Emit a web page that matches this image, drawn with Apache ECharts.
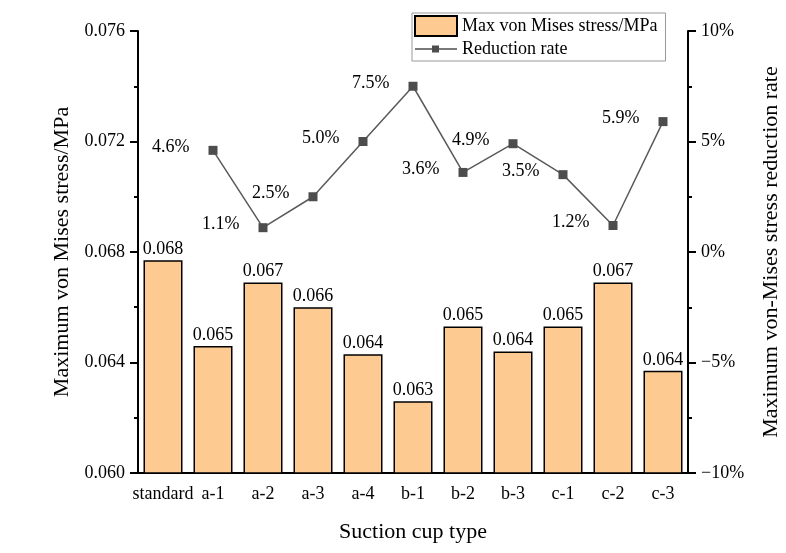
<!DOCTYPE html>
<html>
<head>
<meta charset="utf-8">
<script src="https://cdn.jsdelivr.net/npm/echarts@6/dist/echarts.min.js"></script>
<style>
    html, body { margin: 0; padding: 0; background: #fff; }
    #main { width: 786px; height: 553px; }
</style>
</head>
<body>
<div id="main"></div>
<script>
// data
var categories = ['standard', 'a-1', 'a-2', 'a-3', 'a-4', 'b-1', 'b-2', 'b-3', 'c-1', 'c-2', 'c-3'];
var stress = [0.0677, 0.0646, 0.0669, 0.0660, 0.0643, 0.0626, 0.0653, 0.0644, 0.0653, 0.0669, 0.0637];
var reduction = [null, 4.6, 1.1, 2.5, 5.0, 7.5, 3.6, 4.9, 3.5, 1.2, 5.9];
var stressTicks = [0.060, 0.064, 0.068, 0.072, 0.076];
var rateTicks = [-10, -5, 0, 5, 10];

var font = "'Liberation Serif', 'Times New Roman', serif";

var myChart = echarts.init(document.getElementById('main'));
var option = {
    animation: false,
    textStyle: { fontFamily: font, color: '#000' },
    legend: {
        orient: 'vertical',
        left: 412,
        top: 13,
        padding: [2, 8, 3, 2],
        itemGap: 3,
        itemWidth: 42,
        itemHeight: 20,
        borderColor: '#999',
        borderWidth: 1,
        textStyle: { fontFamily: font, fontSize: 18, color: '#000' },
        data: [
            { name: 'Max von Mises stress/MPa', icon: 'rect' },
            { name: 'Reduction rate', icon: 'path://M0,9.3L42,9.3L42,10.7L0,10.7Z M17,6.5L24,6.5L24,13.5L17,13.5Z' }
        ]
    },
    grid: { left: 138, right: 98, top: 31, bottom: 80, outerBoundsMode: 'none' },
    xAxis: [
        {
            type: 'category',
            data: categories,
            name: 'Suction cup type',
            nameLocation: 'middle',
            nameGap: 48,
            nameTextStyle: { fontFamily: font, fontSize: 22, color: '#000' },
            axisLine: { onZero: false, lineStyle: { color: '#000', width: 2 } },
            axisTick: { alignWithLabel: true, interval: 0, length: 7, lineStyle: { color: '#000', width: 2 } },
            axisLabel: { interval: 0, fontFamily: font, fontSize: 18, color: '#000', margin: 12 }
        },
        {
            // boundary ticks only
            type: 'category',
            data: categories,
            position: 'bottom',
            axisLine: { show: false, onZero: false },
            axisTick: { interval: 0, length: 3, lineStyle: { color: '#000', width: 2 } },
            axisLabel: { show: false }
        }
    ],
    yAxis: [
        {
            type: 'value',
            min: stressTicks[0],
            max: stressTicks[stressTicks.length - 1],
            interval: 0.004,
            name: 'Maximum von Mises stress/MPa',
            nameLocation: 'middle',
            nameGap: 65,
            nameTextStyle: { fontFamily: font, fontSize: 22, color: '#000' },
            splitLine: { show: false },
            axisLine: { show: true, lineStyle: { color: '#000', width: 2 } },
            axisTick: { show: true, length: 8, lineStyle: { color: '#000', width: 2 } },
            minorTick: { show: true, splitNumber: 2, length: 4, lineStyle: { color: '#000', width: 2 } },
            axisLabel: {
                fontFamily: font, fontSize: 18, color: '#000', margin: 13,
                formatter: function (v) { return v.toFixed(3); }
            }
        },
        {
            type: 'value',
            min: rateTicks[0],
            max: rateTicks[rateTicks.length - 1],
            interval: 5,
            name: 'Maximum von-Mises stress reduction rate',
            nameLocation: 'middle',
            nameGap: 72,
            nameTextStyle: { fontFamily: font, fontSize: 22, color: '#000' },
            splitLine: { show: false },
            axisLine: { show: true, lineStyle: { color: '#000', width: 2 } },
            axisTick: { show: true, length: 8, lineStyle: { color: '#000', width: 2 } },
            minorTick: { show: true, splitNumber: 2, length: 4, lineStyle: { color: '#000', width: 2 } },
            axisLabel: {
                fontFamily: font, fontSize: 18, color: '#000', margin: 13,
                formatter: function (v) { return (v < 0 ? '\u2212' + (-v) : v) + '%'; }
            }
        }
    ],
    series: [
        {
            name: 'Max von Mises stress/MPa',
            type: 'bar',
            data: stress,
            barWidth: '78%',
            itemStyle: { color: '#FDCB92', borderColor: '#000', borderWidth: 1.5 },
            label: {
                show: true,
                position: 'top',
                distance: 2,
                fontFamily: font,
                fontSize: 18,
                color: '#000',
                formatter: function (p) { return p.value.toFixed(3); }
            }
        },
        {
            name: 'Reduction rate',
            type: 'line',
            yAxisIndex: 1,
            data: reduction,
            symbol: 'rect',
            symbolSize: 9,
            lineStyle: { color: '#5a5a5a', width: 1.5 },
            itemStyle: { color: '#4d4d4d' },
            label: {
                show: true,
                position: 'left',
                distance: 19,
                offset: [0, -3],
                fontFamily: font,
                fontSize: 18,
                color: '#000',
                formatter: function (p) { return p.value.toFixed(1) + '%'; }
            }
        }
    ]
};
myChart.setOption(option);
</script>
</body>
</html>
